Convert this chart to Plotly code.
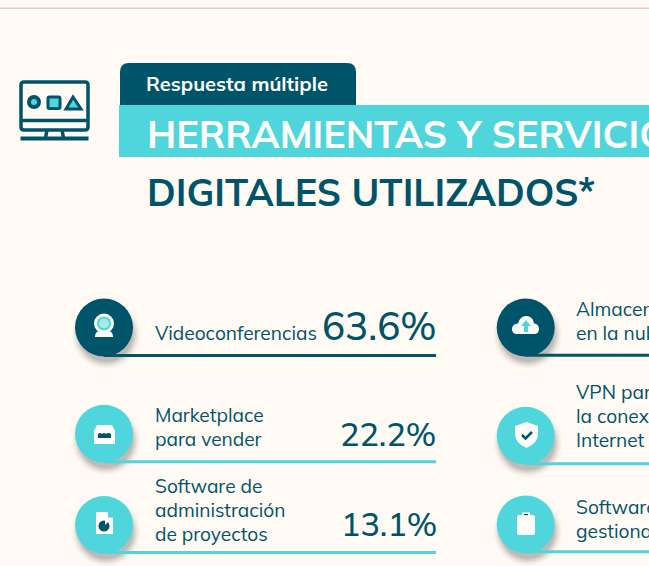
import plotly.graph_objects as go

# ---- data ----
left_labels = [["Videoconferencias"], ["Marketplace", "para vender"], ["Software de", "administración", "de proyectos"]]
left_values = ["63.6%", "22.2%", "13.1%"]
right_labels = [["Almacenamiento", "en la nube"], ["VPN para asegurar", "la conexión a", "Internet"], ["Software para", "gestionar tareas"]]
row_colors_key = ["dark", "cyan", "cyan"]
tab_text = "Respuesta múltiple"
title_line1 = "HERRAMIENTAS Y SERVICIOS"
title_line2 = "DIGITALES UTILIZADOS*"

# ---- layout / style ----
DARK = "#005469"; CYAN = "#4FD6DC"; BG = "#FFFAF3"; WHITE = "#FFFDF9"
FONT = "Mulish, Nunito, Lato, sans-serif"
COLORS = {"dark": DARK, "cyan": CYAN}
left_circle_y = [327.5, 433.8, 525]
right_circle_y = [327.5, 435.8, 524.5]
left_line_y = [355.5, 461.8, 552.5]
right_line_y = [355.2, 463.8, 551.8]
left_cx, right_cx = 104, 525.7
R = 29

fig = go.Figure()
all_cx = [left_cx] * 3 + [right_cx] * 3
all_cy = left_circle_y + right_circle_y

# shadows (soft, stacked)
for size, op in [(70, .012), (68, .018), (66, .025), (64, .03), (62, .04), (60, .05), (58, .055), (56, .06), (54, .07)]:
    fig.add_trace(go.Scatter(
        x=[c + 2 for c in all_cx], y=[y + 7 for y in all_cy],
        mode="markers", marker=dict(size=size, color="#3a3a38", opacity=op, line_width=0), hoverinfo="skip"))

# rules
for cx, xe, ys in [(left_cx, 436, left_line_y), (right_cx, 700, right_line_y)]:
    for y, k in zip(ys, row_colors_key):
        fig.add_trace(go.Scatter(x=[cx, xe], y=[y, y], mode="lines",
                                 line=dict(color=COLORS[k], width=3), hoverinfo="skip"))
# circles
fig.add_trace(go.Scatter(
    x=all_cx, y=all_cy, mode="markers",
    marker=dict(size=2 * R, color=[COLORS[k] for k in row_colors_key] * 2, line_width=0), hoverinfo="skip"))

shapes = []
def rect(x0, y0, x1, y1, fill, line=None, w=0, r=0):
    if r:
        p = (f"M{x0+r},{y0}H{x1-r}Q{x1},{y0} {x1},{y0+r}V{y1-r}Q{x1},{y1} {x1-r},{y1}"
             f"H{x0+r}Q{x0},{y1} {x0},{y1-r}V{y0+r}Q{x0},{y0} {x0+r},{y0}Z")
        path(p, fill, line, w)
    else:
        shapes.append(dict(type="rect", x0=x0, y0=y0, x1=x1, y1=y1, fillcolor=fill, line=dict(color=line, width=w) if line else dict(width=0)))
def path(p, fill="rgba(0,0,0,0)", line=None, w=0):
    shapes.append(dict(type="path", path=p, fillcolor=fill, line=dict(color=line, width=w) if line else dict(width=0)))
def circ(cx, cy, r, fill, line=None, w=0):
    shapes.append(dict(type="circle", x0=cx-r, x1=cx+r, y0=cy-r, y1=cy+r, fillcolor=fill, line=dict(color=line, width=w) if line else dict(width=0)))

# top rule
rect(0, 7.5, 649, 9, "#D6D2C6")
# banner
path("M120,105V72Q120,63 129,63H347Q356,63 356,72V105Z", DARK)
rect(119, 105, 660, 157, CYAN)

# monitor icon
rect(21, 82, 88, 130, "rgba(0,0,0,0)", DARK, 3.5, 3)
path("M21,120.5H88", line=DARK, w=3.5)
path("M47,130L45.5,138M62,130L63.5,138", line=DARK, w=3.5)
path("M20.5,138.5H88.5", line=DARK, w=4)
circ(34, 102, 5, CYAN, DARK, 4)
rect(48, 97, 60, 108.5, CYAN, DARK, 3, 1.5)
path("M73,97L81,109H66Z", CYAN, DARK, 3)

# webcam
path("M95,337Q95,331 100,331H108Q113,331 113,337Z", WHITE)
circ(104, 323.5, 10, WHITE)
circ(104, 323.5, 7, CYAN)
circ(104, 323.5, 5, "#A8EAEC")
# store
path("M97,425H112L115,431V444H94V431Z", WHITE)
path("M98,434Q100,432 102,434Q104,432 106,434Q108,432 111,434V438H98Z", DARK)
# doc
path("M96,512H107L113,518V534H96Z", WHITE)
path("M108,512L113,517.5H108Z", CYAN)
circ(104, 526, 5.5, DARK)
path("M105,525V519.5H111Z", WHITE)
# cloud
path("M517,334Q512,334 512,329Q512,324 518,323.5Q520,316 526,316Q533,316 534,323.5Q539,324 539,329Q539,334 534,334Z", WHITE)
path("M526,320L531,326H528V332H524V326H521Z", CYAN)
# shield
path("M526.5,422L538,426V434Q538,443 526.5,448Q515,443 515,434V426Z", WHITE)
path("M522,435L525.5,438.5L532,432", line=DARK, w=2.5)
# clipboard
rect(517, 515, 535, 535, WHITE, r=2)
rect(522, 512.5, 530, 517, WHITE)
rect(524, 514, 528, 515.2, DARK)

fig.update_layout(shapes=shapes)

def text(x, y, s, size, color=DARK, anchor="left", weight=400):
    fig.add_annotation(x=x, y=y, text=s, showarrow=False, xanchor=anchor, yanchor="middle",
                       font=dict(family=FONT, size=size, color=color, weight=weight))

text(144, 83.5, tab_text, 20, WHITE, weight=700)
text(145, 133.5, title_line1, 37.8, WHITE, weight=700)
text(145, 191.5, title_line2, 37.7, DARK, weight=700)

# labels: rows of lines centred per layout
left_line_ys = [[332.5], [414.5, 438.5], [485.5, 509.5, 533.5]]
right_line_ys = [[308.5, 332.5], [391.5, 415.5, 439.5], [506.5, 530.5]]
for lines, ys in zip(left_labels, left_line_ys):
    for l, y in zip(lines, ys):
        text(152.7, y, l, 19.1)
for lines, ys in zip(right_labels, right_line_ys):
    for l, y in zip(lines, ys):
        text(573.5, y, l, 19.1)
value_y = [325.5, 433.5, 523.5]
value_size = [38.5, 32.4, 32.4]
value_x = [437.5, 437.5, 438.5]
for v, y, s, x in zip(left_values, value_y, value_size, value_x):
    text(x, y, v, s, anchor="right", weight=500)

fig.update_layout(
    width=649, height=566, margin=dict(l=0, r=0, t=0, b=0), showlegend=False,
    paper_bgcolor=BG, plot_bgcolor=BG,
    xaxis=dict(range=[0, 649], visible=False, fixedrange=True),
    yaxis=dict(range=[566, 0], visible=False, fixedrange=True),
)
fig.write_html("out.html", config=dict(displayModeBar=False),
               post_script="document.body.style.margin='0';document.body.style.background='#FFFAF3';")
